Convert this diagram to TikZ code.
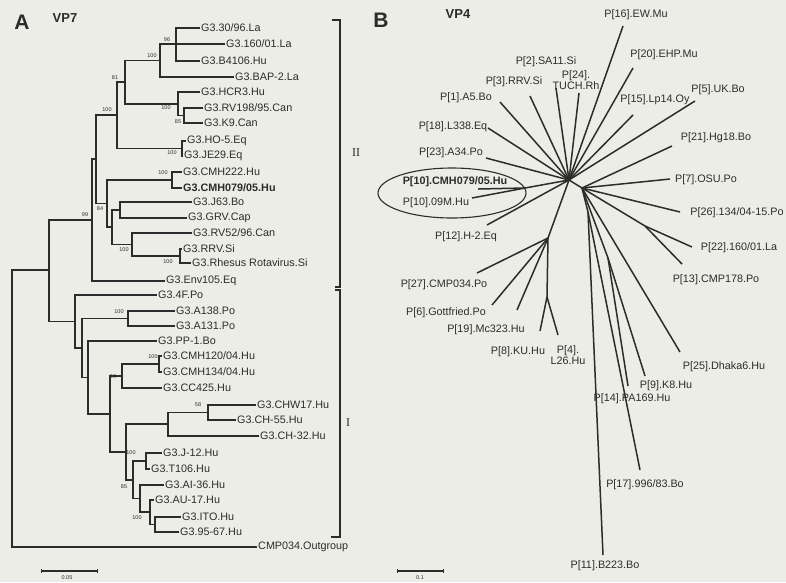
\documentclass[tikz,border=0pt]{standalone}
\usepackage{fontspec}
\setmainfont{Liberation Sans}
\newfontfamily\romfont{Liberation Serif}
\usetikzlibrary{calc}
\definecolor{paper}{HTML}{EDEDE7}
\definecolor{ink}{HTML}{2C2C2C}
\newcommand{\leaffont}{\fontsize{10.8}{11}\selectfont}
\newcommand{\bootfont}{\fontsize{5.5}{6}\selectfont}
\tikzset{
  branch/.style={draw=ink, line width=1.4pt},
  ray/.style={draw=ink, line width=1.5pt},
  leaf/.style={anchor=west, inner sep=1pt, font=\leaffont, text=ink},
  blab/.style={inner sep=0pt, font=\leaffont, text=ink, align=center},
  boot/.style={inner sep=0pt, font=\bootfont, text=ink},
  panel/.style={inner sep=0pt, font=\bfseries\fontsize{21}{22}\selectfont, text=ink},
  gene/.style={inner sep=0pt, font=\bfseries\fontsize{13}{14}\selectfont, text=ink},
}

\begin{document}
\begin{tikzpicture}[x=1pt,y=-1pt]
  \fill[paper] (0,0) rectangle (786,582);
  \useasboundingbox (0,0) rectangle (786,582);

  % panel A, VP7
  \node[panel] (hA) at (22,22) {A};
  \node[gene] (gA) at (65,18) {VP7};

  \node[leaf] (t1) at (200,28) {G3.30/96.La};
  \node[leaf] (t2) at (225,44) {G3.160/01.La};
  \node[leaf] (t3) at (200,61) {G3.B4106.Hu};
  \node[leaf] (t4) at (234,77) {G3.BAP-2.La};
  \node[leaf] (t5) at (200,92) {G3.HCR3.Hu};
  \node[leaf] (t6) at (203,108) {G3.RV198/95.Can};
  \node[leaf] (t7) at (203,123) {G3.K9.Can};
  \node[leaf] (t8) at (186,141) {G3.HO-5.Eq};
  \node[leaf] (t9) at (183,156) {G3.JE29.Eq};
  \node[leaf] (t10) at (182,172) {G3.CMH222.Hu};
  \node[leaf,font=\leaffont\bfseries] (t11) at (182,188) {G3.CMH079/05.Hu};
  \node[leaf] (t12) at (192,202) {G3.J63.Bo};
  \node[leaf] (t13) at (187,218) {G3.GRV.Cap};
  \node[leaf] (t14) at (192,233) {G3.RV52/96.Can};
  \node[leaf] (t15) at (182,249) {G3.RRV.Si};
  \node[leaf] (t16) at (191,263) {G3.Rhesus Rotavirus.Si};
  \node[leaf] (t17) at (165,281) {G3.Env105.Eq};
  \node[leaf] (t18) at (157,295) {G3.4F.Po};
  \node[leaf] (t19) at (175,311) {G3.A138.Po};
  \node[leaf] (t20) at (175,326) {G3.A131.Po};
  \node[leaf] (t21) at (157,341) {G3.PP-1.Bo};
  \node[leaf] (t22) at (162,356) {G3.CMH120/04.Hu};
  \node[leaf] (t23) at (162,372) {G3.CMH134/04.Hu};
  \node[leaf] (t24) at (162,388) {G3.CC425.Hu};
  \node[leaf] (t25) at (256,405) {G3.CHW17.Hu};
  \node[leaf] (t26) at (236,420) {G3.CH-55.Hu};
  \node[leaf] (t27) at (259,436) {G3.CH-32.Hu};
  \node[leaf] (t28) at (162,453) {G3.J-12.Hu};
  \node[leaf] (t29) at (150,469) {G3.T106.Hu};
  \node[leaf] (t30) at (164,485) {G3.AI-36.Hu};
  \node[leaf] (t31) at (154,500) {G3.AU-17.Hu};
  \node[leaf] (t32) at (181,517) {G3.ITO.Hu};
  \node[leaf] (t33) at (179,532) {G3.95-67.Hu};
  \node[leaf] (t34) at (257,547) {CMP034.Outgroup};

  \coordinate (n96) at (176,44);
  \coordinate (n100a) at (160,60.5);
  \coordinate (n85) at (184,115.5);
  \coordinate (nHC) at (178,104);
  \coordinate (n81) at (125,82);
  \coordinate (nHO) at (182,148.5);
  \coordinate (nX) at (117,115);
  \coordinate (nCMH) at (172,180);
  \coordinate (nJ63) at (120,210);
  \coordinate (nRRV) at (180,256);
  \coordinate (nRV) at (132,244.5);
  \coordinate (nJG) at (112,227);
  \coordinate (n84) at (107,203.5);
  \coordinate (nB) at (96,159);
  \coordinate (n99) at (92,220);
  \coordinate (nA13) at (128,318.5);
  \coordinate (nCMHb) at (159,364);
  \coordinate (n99b) at (122,376);
  \coordinate (nCH58) at (208,412.5);
  \coordinate (nCH) at (168,424);
  \coordinate (nJ12) at (146,461);
  \coordinate (nITO) at (155,524.5);
  \coordinate (nAU) at (150,512);
  \coordinate (nAI) at (140,498.5);
  \coordinate (n85b) at (133,480);
  \coordinate (nL1) at (126,452);
  \coordinate (nL0) at (110,414);
  \coordinate (nPP) at (88,377.5);
  \coordinate (nA) at (82,348);
  \coordinate (nI) at (75,321.5);
  \coordinate (nC) at (49,270);
  \coordinate (root) at (12,408.5);

  \foreach \p/\c in {n96/t1.west, n96/t2.west, n96/t3.west, n100a/n96, n100a/t4.west,
      n85/t6.west, n85/t7.west, nHC/t5.west, nHC/n85, n81/n100a, n81/nHC,
      nHO/t8.west, nHO/t9.west, nX/n81, nX/nHO, nCMH/t10.west, nCMH/t11.west,
      nJ63/t12.west, nJ63/t13.west, nRRV/t15.west, nRRV/t16.west, nRV/t14.west, nRV/nRRV,
      nJG/nJ63, nJG/nRV, n84/nCMH, n84/nJG, nB/nX, nB/n84, n99/nB, n99/t17.west,
      nA13/t19.west, nA13/t20.west, nCMHb/t22.west, nCMHb/t23.west, n99b/nCMHb, n99b/t24.west,
      nCH58/t25.west, nCH58/t26.west, nCH/nCH58, nCH/t27.west, nJ12/t28.west, nJ12/t29.west,
      nITO/t32.west, nITO/t33.west, nAU/t31.west, nAU/nITO, nAI/t30.west, nAI/nAU,
      n85b/nJ12, n85b/nAI, nL1/nCH, nL1/n85b, nL0/n99b, nL0/nL1, nPP/t21.west, nPP/nL0,
      nA/nA13, nA/nPP, nI/t18.west, nI/nA, nC/n99, nC/nI, root/nC, root/t34.west}
    \draw[branch] (\p) |- (\c);

  % bootstrap values
  \node[boot] (b1) at (167,40) {96};
  \node[boot] (b2) at (152,56) {100};
  \node[boot] (b3) at (115,78) {81};
  \node[boot] (b4) at (107,110) {100};
  \node[boot] (b5) at (166,108) {100};
  \node[boot] (b6) at (178,122) {85};
  \node[boot] (b7) at (172,153) {100};
  \node[boot] (b8) at (163,173) {100};
  \node[boot] (b9) at (100,209) {84};
  \node[boot] (b10) at (85,215) {99};
  \node[boot] (b11) at (124,250) {100};
  \node[boot] (b12) at (168,262) {100};
  \node[boot] (b13) at (119,312) {100};
  \node[boot] (b14) at (153,357) {100};
  \node[boot] (b15) at (113,377) {99};
  \node[boot] (b16) at (198,405) {58};
  \node[boot] (b17) at (131,453) {100};
  \node[boot] (b18) at (124,487) {85};
  \node[boot] (b19) at (137,518) {100};

  % clade brackets
  \draw[branch,line width=1.2pt] (332,20) -| (340,287) -- (335,287);
  \draw[branch,line width=1.2pt] (335,290) -| (340,537) -- (331,537);
  \node[inner sep=0pt,text=ink,font=\romfont\fontsize{12}{12}\selectfont] (cII) at (356,153) {II};
  \node[inner sep=0pt,text=ink,font=\romfont\fontsize{12}{12}\selectfont] (cI) at (348,423) {I};

  % scale bar A
  \coordinate (sa1) at (41,571);
  \coordinate (sa2) at (97,571);
  \draw[ink,line width=1.1pt] (sa1) -- (sa2);
  \draw[ink,line width=0.8pt] ($(sa1)+(0,-2)$) -- ($(sa1)+(0,2)$) ($(sa2)+(0,-2)$) -- ($(sa2)+(0,2)$);
  \node[boot] (sla) at (67,578) {0.05};

  % panel B, VP4
  \node[panel] (hB) at (381,20) {B};
  \node[gene] (gB) at (458,14) {VP4};

  \coordinate (c1) at (569,180);
  \coordinate (c2) at (582,188);
  \coordinate (p10n) at (525,188);
  \coordinate (nb1) at (548,238);
  \coordinate (nb2) at (547,297);
  \coordinate (nb3) at (645,226);
  \coordinate (nb4) at (608,258);
  \coordinate (nb5) at (588,212);

  \coordinate (e16) at (623,26);
  \coordinate (e20) at (633,68);
  \coordinate (e15) at (633,115);
  \coordinate (e5) at (695,101);
  \coordinate (e2) at (556,88);
  \coordinate (e3) at (530,96);
  \coordinate (e24) at (579,93);
  \coordinate (e1) at (500,102);
  \coordinate (e18) at (488,128);
  \coordinate (e23) at (486,158);
  \coordinate (e10a) at (478,189);
  \coordinate (e10b) at (472,198);
  \coordinate (e12) at (487,225);
  \coordinate (e27) at (477,273);
  \coordinate (e6) at (492,305);
  \coordinate (e19) at (517,310);
  \coordinate (e8) at (540,331);
  \coordinate (e4) at (558,335);
  \coordinate (e21) at (672,146);
  \coordinate (e7) at (670,179);
  \coordinate (e26) at (680,212);
  \coordinate (e22) at (692,247);
  \coordinate (e13) at (682,264);
  \coordinate (e25) at (680,352);
  \coordinate (e9) at (645,376);
  \coordinate (e14) at (628,386);
  \coordinate (e17) at (640,470);
  \coordinate (e11) at (603,555);

  \foreach \a/\b in {c1/c2, c1/e16, c1/e20, c1/e15, c1/e5, c1/e2, c1/e3, c1/e24, c1/e1,
      c1/e18, c1/e23, c1/p10n, p10n/e10a, p10n/e10b, c1/e12, c1/nb1, nb1/e27, nb1/e6,
      nb1/e19, nb1/nb2, nb2/e8, nb2/e4, c2/e21, c2/e7, c2/e26, c2/nb3, nb3/e22, nb3/e13,
      c2/e25, c2/nb4, nb4/e9, nb4/e14, c2/nb5, nb5/e17, nb5/e11}
    \draw[ray] (\a) -- (\b);

  \node[blab] (l16) at (636,15) {P[16].EW.Mu};
  \node[blab] (l20) at (664,55) {P[20].EHP.Mu};
  \node[blab] (l15) at (655,100) {P[15].Lp14.Oy};
  \node[blab] (l5) at (718,90) {P[5].UK.Bo};
  \node[blab] (l21) at (716,138) {P[21].Hg18.Bo};
  \node[blab] (l7) at (706,180) {P[7].OSU.Po};
  \node[blab] (l26) at (737,213) {P[26].134/04-15.Po};
  \node[blab] (l22) at (739,248) {P[22].160/01.La};
  \node[blab] (l13) at (716,280) {P[13].CMP178.Po};
  \node[blab] (l25) at (724,367) {P[25].Dhaka6.Hu};
  \node[blab] (l9) at (666,386) {P[9].K8.Hu};
  \node[blab] (l14) at (632,399) {P[14].PA169.Hu};
  \node[blab] (l17) at (645,485) {P[17].996/83.Bo};
  \node[blab] (l11) at (605,566) {P[11].B223.Bo};
  \node[blab] (l2) at (546,62) {P[2].SA11.Si};
  \node[blab] (l3) at (514,82) {P[3].RRV.Si};
  \node[blab] (l24) at (576,80) {P[24].\\TUCH.Rh};
  \node[blab] (l1) at (466,98) {P[1].A5.Bo};
  \node[blab] (l18) at (453,127) {P[18].L338.Eq};
  \node[blab] (l23) at (451,153) {P[23].A34.Po};
  \node[blab,font=\leaffont\bfseries] (l10a) at (455,182) {P[10].CMH079/05.Hu};
  \node[blab] (l10b) at (436,203) {P[10].09M.Hu};
  \node[blab] (l12) at (466,237) {P[12].H-2.Eq};
  \node[blab] (l27) at (444,285) {P[27].CMP034.Po};
  \node[blab] (l6) at (446,313) {P[6].Gottfried.Po};
  \node[blab] (l19) at (486,330) {P[19].Mc323.Hu};
  \node[blab] (l8) at (518,352) {P[8].KU.Hu};
  \node[blab] (l4) at (568,355) {P[4].\\L26.Hu};

  \draw[ink,line width=1.1pt] (452,193) ellipse [x radius=74, y radius=25];

  % scale bar B
  \coordinate (sb1) at (397,571);
  \coordinate (sb2) at (443,571);
  \draw[ink,line width=1.1pt] (sb1) -- (sb2);
  \draw[ink,line width=0.8pt] ($(sb1)+(0,-2)$) -- ($(sb1)+(0,2)$) ($(sb2)+(0,-2)$) -- ($(sb2)+(0,2)$);
  \node[boot] (slb) at (420,578) {0.1};
\end{tikzpicture}
\end{document}
